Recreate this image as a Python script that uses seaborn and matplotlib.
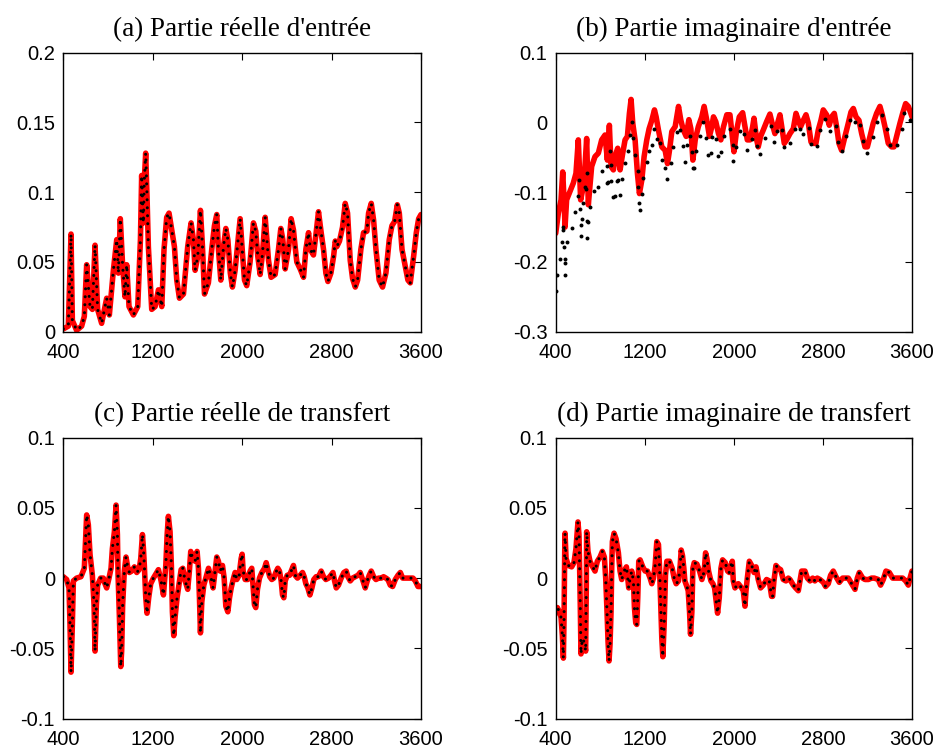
import matplotlib
matplotlib.use("Agg")
import matplotlib.pyplot as plt
import pandas as pd
import seaborn as sns

sns.set_style("white")
plt.rcParams['font.family'] = ['Liberation Sans', 'DejaVu Sans']
plt.rcParams['axes.edgecolor'] = 'black'
plt.rcParams['axes.linewidth'] = 1.0

# ---------------- data ----------------
x_ticks = [400, 1200, 2000, 2800, 3600]
x_tick_labels = ['400', '1200', '2000', '2800', '3600']

titles = ["(a) Partie réelle d'entrée", "(b) Partie imaginaire d'entrée",
          "(c) Partie réelle de transfert", "(d) Partie imaginaire de transfert"]

yticks_a = [0, 0.05, 0.1, 0.15, 0.2]
ylabels_a = ['0', '0.05', '0.1', '0.15', '0.2']
yticks_b = [-0.3, -0.2, -0.1, 0, 0.1]
ylabels_b = ['-0.3', '-0.2', '-0.1', '0', '0.1']
yticks_cd = [-0.1, -0.05, 0, 0.05, 0.1]
ylabels_cd = ['-0.1', '-0.05', '0', '0.05', '0.1']

# (a) real part, input
xa = [400, 445, 469, 481, 519, 564, 588, 609, 639, 660, 684, 707, 743, 788, 812, 848, 878, 893, 910, 931,
      952, 967, 988, 1027, 1066, 1090, 1101, 1116, 1125, 1137, 1149, 1161, 1191, 1221, 1251, 1281, 1301,
      1325, 1346, 1370, 1394, 1415, 1439, 1475, 1513, 1543, 1564, 1579, 1603, 1627, 1645, 1663, 1698, 1728,
      1752, 1773, 1788, 1809, 1833, 1854, 1872, 1894, 1913,
      1937, 1982, 2003, 2021, 2041, 2071, 2101, 2122, 2140, 2161, 2182, 2206, 2221, 2236, 2259, 2295, 2325,
      2346, 2364, 2385, 2415, 2438, 2459, 2474, 2489, 2519, 2549, 2570, 2594, 2609, 2638, 2662, 2683, 2707,
      2728, 2749, 2767, 2794, 2818, 2833, 2847, 2871, 2898, 2922, 2943, 2967, 2988, 3012, 3033, 3062, 3086,
      3116, 3131, 3155, 3176, 3197, 3226, 3256, 3286, 3316, 3340, 3364, 3388, 3406, 3430, 3459, 3483, 3504,
      3534, 3558, 3579, 3600]
ya = [0.002, 0.004, 0.070, 0.008, 0.001, 0.004, 0.011, 0.048, 0.018, 0.016, 0.062, 0.016, 0.006, 0.024,
      0.012, 0.044, 0.066, 0.042, 0.081, 0.047, 0.025, 0.048, 0.018, 0.012, 0.018, 0.066, 0.112, 0.078,
      0.109, 0.128, 0.097, 0.061, 0.016, 0.018, 0.030, 0.018, 0.059, 0.082, 0.085, 0.073, 0.061, 0.037,
      0.024, 0.027, 0.061, 0.078, 0.066, 0.044, 0.054, 0.087, 0.061, 0.027, 0.035, 0.059, 0.076, 0.084,
      0.059, 0.037, 0.061, 0.074, 0.066, 0.042, 0.032,
      0.044, 0.081, 0.056, 0.037, 0.033, 0.050, 0.078, 0.072, 0.054, 0.041, 0.056, 0.082, 0.066, 0.051,
      0.039, 0.041, 0.059, 0.074, 0.066, 0.045, 0.059, 0.081, 0.073, 0.061, 0.050, 0.045, 0.039, 0.059,
      0.071, 0.059, 0.055, 0.071, 0.086, 0.071, 0.059, 0.042, 0.036, 0.042, 0.054, 0.065, 0.061, 0.065,
      0.075, 0.092, 0.085, 0.051, 0.038, 0.032, 0.037, 0.059, 0.071, 0.072, 0.085, 0.092, 0.080, 0.059,
      0.037, 0.032, 0.042, 0.066, 0.076, 0.079, 0.091, 0.085, 0.059, 0.047, 0.037, 0.035, 0.054, 0.071,
      0.081, 0.084]

# (b) imaginary part, input (red model)
xb = [400, 424, 448, 463, 475, 484, 498, 528, 558, 582, 603, 624, 648, 663, 678, 693, 723, 753, 783, 813,
      843, 864, 882, 897, 918, 942, 957, 978, 1002, 1023, 1044, 1062, 1077, 1092, 1113, 1134, 1152, 1173,
      1194, 1218, 1239, 1263, 1287, 1302, 1323, 1353, 1383, 1404, 1422, 1443, 1473, 1503, 1524, 1547, 1572,
      1596, 1614, 1632, 1653, 1681, 1712, 1733, 1757, 1781, 1802, 1817, 1838, 1862, 1883, 1907, 1937,
      1965, 1989, 2001, 2025, 2049, 2079, 2100, 2121, 2145, 2169, 2181, 2205, 2219, 2240, 2264, 2294, 2324,
      2348, 2369, 2393, 2414, 2435, 2453, 2474, 2504, 2534, 2558, 2579, 2600, 2624, 2648, 2669, 2693, 2714,
      2737, 2758, 2782, 2803, 2833, 2857, 2878, 2902, 2923, 2944, 2968, 2998, 3028, 3052, 3073, 3097, 3124,
      3148, 3178, 3199, 3223, 3252, 3282, 3312, 3333, 3357, 3387, 3417, 3438, 3462, 3492, 3516, 3543, 3567,
      3600]
yb = [-0.159, -0.130, -0.111, -0.071, -0.111, -0.150, -0.111, -0.099, -0.087, -0.073, -0.025, -0.111,
      -0.092, -0.063, -0.023, -0.118, -0.063, -0.049, -0.044, -0.025, -0.018, -0.054, -0.004, -0.063,
      -0.068, -0.044, -0.037, -0.068, -0.044, -0.025, -0.020, 0.013, 0.033, -0.001, -0.025, -0.073, -0.102,
      -0.083, -0.049, -0.025, -0.009, 0.003, 0.018, 0.008, -0.011, -0.035, -0.040, -0.059, -0.040, -0.013,
      -0.006, 0.023, 0.003, -0.011, -0.020, 0.004, -0.009, -0.054, -0.025, -0.006, 0.008, 0.023, 0.003,
      -0.020, -0.006, 0.008, 0.001, -0.016, -0.025, -0.006, 0.011,
      0.011, -0.025, -0.042, -0.011, 0.008, 0.014, -0.006, -0.025, -0.025, -0.006, 0.006, -0.025, -0.035,
      -0.020, -0.011, 0.001, 0.012, -0.004, -0.016, -0.001, 0.011, -0.011, -0.030, -0.025, -0.016, -0.009,
      0.013, 0.003, -0.006, 0.003, 0.011, -0.001, -0.028, -0.030, -0.030, -0.011, 0.003, 0.018, 0.011,
      -0.004, 0.008, 0.013, -0.006, -0.030, -0.040, -0.020, -0.001, 0.015, 0.020, 0.008, 0.003, -0.016,
      -0.035, -0.035, -0.020, -0.001, 0.013, 0.023, 0.011, -0.006, -0.030, -0.035, -0.035, -0.020, -0.001,
      0.013, 0.027, 0.023, 0.008]

# (b) measured points (black)
xb_pts = [400, 415, 439, 454, 466, 469, 475, 481, 481, 484, 502, 544, 574, 597, 612, 618, 624, 627, 639,
          648, 663, 672, 678, 678, 687, 678, 708, 744, 783, 813, 858, 864, 873, 888, 894, 894, 918, 930,
          948, 963, 978, 999, 1023, 1053, 1068, 1083, 1098, 1113, 1137, 1143, 1149, 1158, 1173, 1188, 1218,
          1242, 1263, 1287, 1308, 1338, 1353, 1383, 1404, 1434, 1452, 1488, 1512, 1542, 1560, 1578, 1602,
          1623, 1632, 1644, 1659, 1695, 1725, 1749, 1767, 1793, 1808, 1838, 1859, 1883, 1913,
          1965, 1989, 1995, 2019, 2055, 2094, 2115, 2160, 2190, 2210, 2234, 2276, 2330, 2360, 2390, 2432,
          2450, 2504, 2552, 2594, 2624, 2672, 2693, 2749, 2773, 2821, 2863, 2914, 2932, 2968, 3004, 3043,
          3088, 3133, 3157, 3193, 3246, 3282, 3327, 3378, 3402, 3468, 3507, 3528, 3585]
yb_pts = [-0.242, -0.219, -0.196, -0.172, -0.150, -0.154, -0.179, -0.196, -0.219, -0.202, -0.172, -0.151,
          -0.128, -0.105, -0.082, -0.124, -0.147, -0.163, -0.139, -0.116, -0.092, -0.095, -0.072, -0.142,
          -0.143, -0.165, -0.121, -0.098, -0.093, -0.070, -0.063, -0.087, -0.085, -0.041, -0.061, -0.084,
          -0.107, -0.106, -0.084, -0.083, -0.104, -0.081, -0.058, -0.041, -0.018, -0.000, -0.023, -0.047,
          -0.069, -0.092, -0.116, -0.126, -0.102, -0.079, -0.056, -0.041, -0.033, -0.010, -0.024, -0.030,
          -0.054, -0.065, -0.081, -0.058, -0.035, -0.013, -0.011, -0.034, -0.056, -0.033, -0.019, -0.042,
          -0.065, -0.065, -0.041, -0.019, -0.000, -0.023, -0.046, -0.044, -0.021, -0.024, -0.048, -0.043,
          -0.020,
          -0.009, -0.032, -0.055, -0.035, -0.012, -0.016, -0.039, -0.024, -0.011, -0.034, -0.045, -0.023,
          -0.005, -0.028, -0.012, -0.011, -0.035, -0.029, -0.009, -0.009, -0.016, -0.008, -0.031, -0.034,
          -0.011, 0.005, -0.012, -0.005, -0.028, -0.041, -0.019, 0.004, 0.001, -0.004, -0.027, -0.044,
          -0.021, 0.001, 0.010, -0.010, -0.033, -0.032, -0.010, 0.013, 0.004]

# (c) real part, transfer
xc = [400, 430, 451, 460, 469, 481, 490, 519, 558, 588, 609, 624, 639, 660, 675, 684, 696, 707, 734, 758,
      773, 788, 809, 827, 839, 857, 872, 884, 890, 902, 914, 922, 931, 946, 961, 976, 991, 1012, 1036, 1057,
      1078, 1093, 1108, 1117, 1125, 1137, 1149, 1164, 1182, 1206, 1236, 1251, 1275, 1296, 1317, 1329, 1340,
      1355, 1367, 1376, 1388, 1400, 1418, 1436, 1454, 1469, 1490, 1513, 1528, 1540, 1558, 1579, 1597, 1609,
      1618, 1627, 1639, 1657, 1675, 1699, 1722, 1740, 1758, 1773, 1788, 1803, 1824, 1839, 1854, 1872, 1887,
      1902, 1923,
      1937, 1952, 1973, 1991, 2000, 2009, 2027, 2050, 2071, 2086, 2101, 2110, 2122, 2137, 2155, 2176, 2200,
      2215, 2230, 2247, 2265, 2283, 2301, 2319, 2334, 2349, 2361, 2373, 2385, 2403, 2424, 2444, 2459, 2474,
      2495, 2519, 2540, 2555, 2570, 2588, 2606, 2624, 2641, 2662, 2683, 2707, 2728, 2749, 2773, 2794, 2812,
      2827, 2842, 2862, 2886, 2910, 2931, 2946, 2967, 2988, 3012, 3036, 3056, 3077, 3101, 3119, 3137, 3155,
      3176, 3197, 3221, 3245, 3265, 3286, 3304, 3325, 3346, 3370, 3394, 3415, 3436, 3459, 3483, 3510, 3528,
      3549, 3573, 3600]
yc = [0.001, -0.001, -0.007, -0.033, -0.067, -0.033, -0.002, -0.000, 0.001, 0.007, 0.045, 0.038, 0.017,
      0.002, -0.019, -0.052, -0.019, -0.005, -0.000, 0.000, -0.004, -0.007, 0.000, 0.007, 0.021, 0.033,
      0.052, 0.031, 0.002, -0.028, -0.063, -0.052, -0.019, 0.005, 0.015, 0.008, 0.004, 0.005, 0.008, 0.004,
      0.006, 0.014, 0.031, 0.021, 0.009, -0.013, -0.025, -0.014, -0.004, 0.000, 0.004, 0.006, -0.002,
      -0.012, 0.009, 0.031, 0.044, 0.033, 0.009, -0.024, -0.041, -0.028, -0.014, -0.004, 0.006, 0.007,
      -0.002, -0.008, 0.005, 0.019, 0.014, 0.012, 0.019, 0.007, -0.014, -0.039, -0.017, -0.005, 0.000,
      0.007, 0.000, -0.007, 0.005, 0.015, 0.012, 0.005, 0.009, 0.000, -0.020, -0.024, -0.014, -0.007, 0.000,
      0.004, -0.001, 0.002, 0.014, 0.017, 0.005, -0.001, -0.001, 0.005, 0.007, -0.009, -0.019, -0.021,
      -0.008, 0.000, 0.004, 0.007, 0.011, 0.006, 0.001, -0.001, 0.000, 0.004, 0.007, 0.005, -0.002, -0.012,
      -0.014, -0.002, 0.002, 0.002, 0.006, 0.009, 0.002, 0.000, 0.002, 0.004, 0.001, -0.004, -0.007,
      -0.012, -0.007, -0.001, 0.001, 0.001, 0.005, 0.001, -0.001, 0.000, 0.002, 0.004, -0.002, -0.007,
      -0.005, 0.000, 0.004, 0.005, 0.001, -0.002, 0.000, 0.001, 0.002, 0.004, -0.001, -0.007, -0.002,
      0.002, 0.005, 0.001, -0.001, 0.000, 0.000, 0.001, 0.000, -0.001, -0.005, -0.006, -0.001, 0.002,
      0.004, 0.000, 0.000, 0.000, 0.000, 0.000, -0.002, -0.006, -0.006]

# (d) imaginary part, transfer
xd = [400, 415, 433, 448, 460, 469, 475, 481, 484, 493, 513, 543, 564, 582, 600, 609, 615, 621, 627, 639,
      648, 660, 669, 675, 678, 690, 708, 732, 753, 774, 798, 819, 837, 849, 861, 870, 879, 888, 897, 903,
      909, 924, 942, 963, 978, 993, 1014, 1035, 1047, 1056, 1068, 1083, 1098, 1107, 1119, 1128, 1137, 1146,
      1158, 1182, 1203, 1224, 1248, 1263, 1278, 1293, 1308, 1323, 1332, 1344, 1353, 1362, 1374, 1386, 1398,
      1422, 1446, 1464, 1482, 1503, 1518, 1527, 1539, 1551, 1560, 1578, 1590, 1602, 1611, 1623, 1632, 1644,
      1668, 1692, 1713, 1734, 1746, 1758, 1773, 1794, 1812, 1827, 1839, 1854, 1869, 1884, 1899, 1923, 1944,
      1959, 1974, 1986,
      1995, 2010, 2040, 2070, 2085, 2100, 2109, 2121, 2139, 2160, 2181, 2199, 2219, 2240, 2264, 2294, 2318,
      2339, 2348, 2360, 2378, 2399, 2420, 2444, 2468, 2489, 2504, 2534, 2555, 2579, 2594, 2609, 2639, 2660,
      2684, 2708, 2728, 2749, 2773, 2803, 2824, 2848, 2869, 2893, 2917, 2947, 2977, 3007, 3028, 3058, 3088,
      3109, 3127, 3157, 3178, 3208, 3237, 3261, 3297, 3318, 3342, 3366, 3396, 3426, 3453, 3486, 3516, 3543,
      3567, 3582, 3600]
yd = [-0.025, -0.021, -0.024, -0.028, -0.041, -0.057, -0.028, 0.019, 0.032, 0.014, 0.009, 0.008, 0.011,
      0.021, 0.040, 0.031, 0.007, -0.021, -0.054, -0.043, -0.044, -0.047, -0.052, -0.005, 0.033, 0.019,
      0.012, 0.008, 0.005, 0.012, 0.015, 0.019, 0.015, 0.000, -0.024, -0.045, -0.059, -0.047, -0.024, 0.007,
      0.026, 0.032, 0.028, 0.018, 0.005, -0.001, 0.005, 0.008, 0.000, -0.007, 0.000, 0.005, -0.002, -0.021,
      -0.032, -0.033, -0.014, 0.012, 0.013, 0.008, 0.005, 0.005, 0.000, -0.004, 0.000, 0.009, 0.026, 0.024,
      0.009, -0.021, -0.043, -0.056, -0.033, 0.002, 0.012, 0.012, 0.007, 0.000, -0.004, -0.002, 0.009,
      0.020, 0.016, 0.007, -0.002, -0.006, -0.009, -0.024, -0.040, -0.024, 0.007, 0.011, 0.010, 0.005,
      -0.001, 0.005, 0.018, 0.014, 0.005, -0.002, -0.004, -0.007, -0.015, -0.025, -0.014, 0.007, 0.013,
      0.011, 0.005, 0.004, 0.009, 0.012,
      -0.002, -0.007, -0.004, -0.007, -0.009, -0.020, -0.009, 0.000, 0.012, 0.009, 0.004, 0.008, -0.001,
      -0.007, -0.005, -0.001, -0.002, -0.013, -0.013, -0.002, 0.009, 0.007, 0.006, -0.001, -0.002, 0.000,
      -0.001, -0.005, -0.007, -0.009, -0.002, 0.005, 0.005, 0.000, -0.002, 0.000, -0.002, 0.000, -0.001,
      -0.003, -0.006, -0.004, 0.002, 0.005, 0.001, -0.003, 0.000, 0.000, 0.000, -0.004, -0.008, 0.000,
      0.004, 0.000, -0.001, -0.001, 0.000, 0.000, -0.001, -0.005, -0.001, 0.005, 0.004, 0.000, 0.000,
      0.000, 0.000, -0.002, -0.005, 0.000, 0.005]

# ---------------- figure ----------------
fig = plt.figure(figsize=(9.36, 7.51), dpi=100)
W, H = 936.0, 751.0
def rect(l, r, t, b):
    return [l / W, 1 - b / H, (r - l) / W, (b - t) / H]

ax_a = fig.add_axes(rect(63.3, 421.0, 52.7, 331.7))
ax_b = fig.add_axes(rect(555.7, 912.0, 52.7, 331.7))
ax_c = fig.add_axes(rect(63.3, 421.0, 437.7, 718.5))
ax_d = fig.add_axes(rect(555.7, 912.0, 437.7, 718.5))

RED_LW = 4.0
dotted = (0, (0.01, 2.6))

def red_black(ax, x, y):
    df = pd.DataFrame({'x': x, 'y': y})
    sns.lineplot(data=df, x='x', y='y', ax=ax, color='#ff0000', lw=RED_LW,
                 sort=False, estimator=None, zorder=2, solid_joinstyle='round')
    sns.lineplot(data=df, x='x', y='y', ax=ax, color='black', lw=2.2,
                 linestyle=dotted, dash_capstyle='round',
                 sort=False, estimator=None, zorder=3)

red_black(ax_a, xa, ya)
dfb = pd.DataFrame({'x': xb, 'y': yb})
sns.lineplot(data=dfb, x='x', y='y', ax=ax_b, color='#ff0000', lw=RED_LW,
             sort=False, estimator=None, zorder=2, solid_joinstyle='round')
sns.scatterplot(x=xb_pts, y=yb_pts, ax=ax_b, color='black', s=8, linewidth=0, zorder=3)
red_black(ax_c, xc, yc)
red_black(ax_d, xd, yd)

setups = [(ax_a, yticks_a, ylabels_a), (ax_b, yticks_b, ylabels_b),
          (ax_c, yticks_cd, ylabels_cd), (ax_d, yticks_cd, ylabels_cd)]
for (ax, yt, yl), title in zip(setups, titles):
    ax.set_xlim(400, 3600)
    ax.set_ylim(yt[0], yt[-1])
    ax.set_xticks(x_ticks)
    ax.set_xticklabels(x_tick_labels)
    ax.set_yticks(yt)
    ax.set_yticklabels(yl)
    ax.set_xlabel('')
    ax.set_ylabel('')
    ax.tick_params(direction='in', top=True, right=True, length=5, width=0.8,
                   labelsize=14.5, colors='black')
    ax.tick_params(axis='y', pad=6)
    ax.tick_params(axis='x', pad=8)
    for s in ax.spines.values():
        s.set_visible(True)
        s.set_color('black')
        s.set_linewidth(1.0)
    ax.set_title(title, fontfamily=['Liberation Serif', 'DejaVu Serif'], fontsize=19.5,
                 color='black', pad=12)

fig.savefig('out.png', dpi=100)
